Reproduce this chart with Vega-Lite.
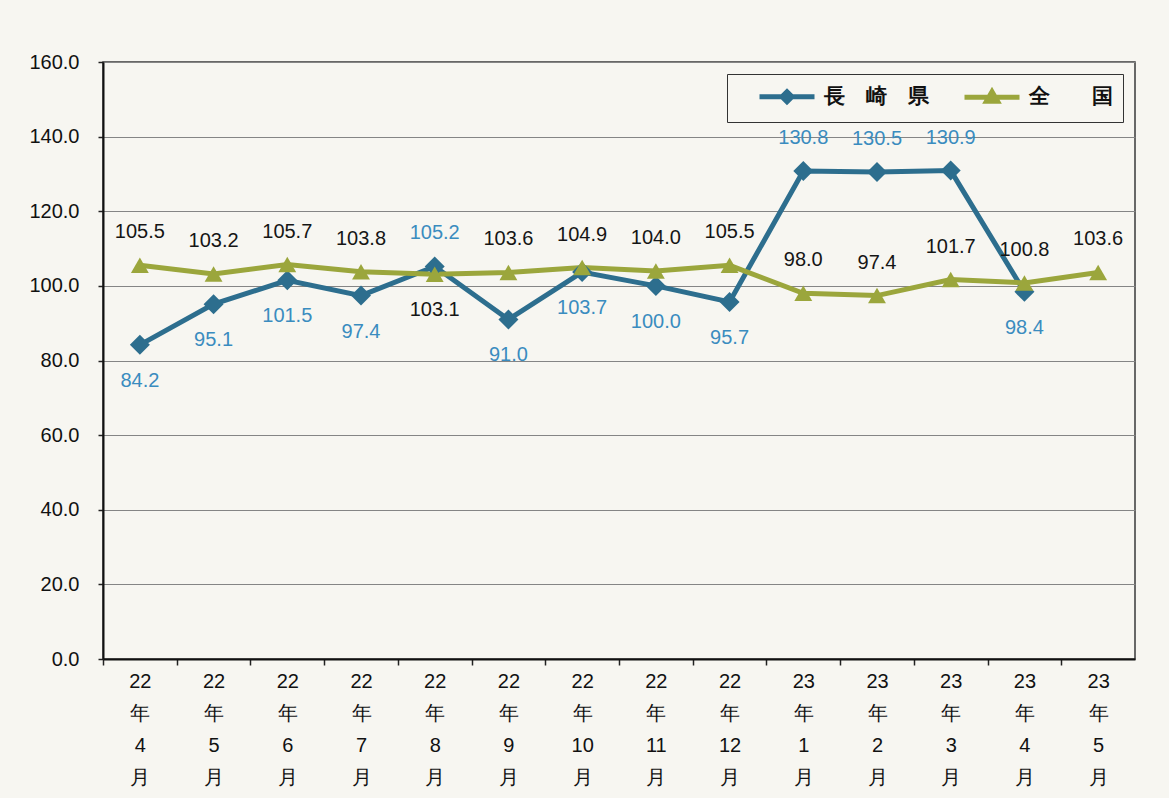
{
  "$schema": "https://vega.github.io/schema/vega-lite/v6.json",
  "width": 1032,
  "height": 597,
  "autosize": {"type": "none"},
  "padding": {"left": 103, "top": 62, "right": 34, "bottom": 139},
  "background": "#f7f6f1",
  "config": {
    "view": {"stroke": "#3a3a3a", "strokeWidth": 1.5}
  },
  "data": {
    "values": [
      {"month": "22年4月", "series": "長崎県", "value": 84.2},
      {"month": "22年5月", "series": "長崎県", "value": 95.1},
      {"month": "22年6月", "series": "長崎県", "value": 101.5},
      {"month": "22年7月", "series": "長崎県", "value": 97.4},
      {"month": "22年8月", "series": "長崎県", "value": 105.2},
      {"month": "22年9月", "series": "長崎県", "value": 91.0},
      {"month": "22年10月", "series": "長崎県", "value": 103.7},
      {"month": "22年11月", "series": "長崎県", "value": 100.0},
      {"month": "22年12月", "series": "長崎県", "value": 95.7},
      {"month": "23年1月", "series": "長崎県", "value": 130.8},
      {"month": "23年2月", "series": "長崎県", "value": 130.5},
      {"month": "23年3月", "series": "長崎県", "value": 130.9},
      {"month": "23年4月", "series": "長崎県", "value": 98.4},
      {"month": "22年4月", "series": "全国", "value": 105.5},
      {"month": "22年5月", "series": "全国", "value": 103.2},
      {"month": "22年6月", "series": "全国", "value": 105.7},
      {"month": "22年7月", "series": "全国", "value": 103.8},
      {"month": "22年8月", "series": "全国", "value": 103.1},
      {"month": "22年9月", "series": "全国", "value": 103.6},
      {"month": "22年10月", "series": "全国", "value": 104.9},
      {"month": "22年11月", "series": "全国", "value": 104.0},
      {"month": "22年12月", "series": "全国", "value": 105.5},
      {"month": "23年1月", "series": "全国", "value": 98.0},
      {"month": "23年2月", "series": "全国", "value": 97.4},
      {"month": "23年3月", "series": "全国", "value": 101.7},
      {"month": "23年4月", "series": "全国", "value": 100.8},
      {"month": "23年5月", "series": "全国", "value": 103.6}
    ]
  },
  "encoding": {
    "x": {
      "field": "month",
      "type": "ordinal",
      "scale": {
        "type": "point",
        "padding": 0.5,
        "domain": ["22年4月", "22年5月", "22年6月", "22年7月", "22年8月", "22年9月", "22年10月", "22年11月", "22年12月", "23年1月", "23年2月", "23年3月", "23年4月", "23年5月"]
      },
      "axis": {
        "title": null,
        "labelAngle": 0,
        "labelBaseline": "top",
        "labelExpr": "[slice(datum.value, 0, 2), '年', slice(datum.value, 3, -1), '月']",
        "labelLineHeight": 32,
        "labelFontSize": 20,
        "labelColor": "#111111",
        "labelPadding": 6,
        "tickOffset": -36.857,
        "labelOffset": 36.857,
        "tickSize": 6,
        "tickWidth": 1.5,
        "tickColor": "#222222",
        "domainColor": "#111111",
        "domainWidth": 2,
        "grid": false
      }
    }
  },
  "layer": [
    {
      "mark": {"type": "line", "strokeWidth": 5},
      "encoding": {
        "y": {
          "field": "value",
          "type": "quantitative",
          "title": null,
          "scale": {"domain": [0, 160], "nice": false},
          "axis": {
            "values": [0, 20, 40, 60, 80, 100, 120, 140, 160],
            "format": ".1f",
            "grid": true,
            "gridColor": "#858585",
            "domainColor": "#111111",
            "domainWidth": 2,
            "tickColor": "#222222",
            "tickSize": 5,
            "tickWidth": 1.5,
            "labelFontSize": 20,
            "labelPadding": 19,
            "labelColor": "#111111"
          }
        },
        "color": {
          "field": "series",
          "type": "nominal",
          "scale": {"domain": ["長崎県", "全国"], "range": ["#2d6e8e", "#9ba63c"]},
          "legend": {
            "title": null,
            "orient": "top-right",
            "offset": 12,
            "direction": "horizontal",
            "strokeColor": "#333333",
            "padding": 10,
            "labelFontSize": 21,
            "labelFontWeight": "bold",
            "labelColor": "#111111",
            "labelExpr": "datum.value === '長崎県' ? '長　崎　県' : '全　　国'",
            "symbolType": "M-2.75,0H2.75",
            "symbolSize": 400,
            "symbolStrokeWidth": 5,
            "symbolOffset": 37.5,
            "labelOffset": 24.5,
            "columnPadding": 13,
            "encode": {
              "symbols": {
                "update": {
                  "shape": {"signal": "datum.value === '長崎県' ? 'M-2.75,0H2.75M-0.5,0L0,-0.5L0.5,0L0,0.5Z' : 'M-2.75,0H2.75M-0.55,0.4L0,-0.55L0.55,0.4Z'"},
                  "fill": {"scale": "color", "field": "value"},
                  "stroke": {"scale": "color", "field": "value"},
                  "strokeWidth": {"value": 5}
                }
              }
            }
          }
        }
      }
    },
    {
      "transform": [{"filter": "datum.series === '長崎県'"}],
      "mark": {"type": "point", "filled": true, "opacity": 1, "shape": "diamond", "size": 400, "color": "#2d6e8e"},
      "encoding": {
        "y": {"field": "value", "type": "quantitative", "title": null}
      }
    },
    {
      "transform": [{"filter": "datum.series === '全国'"}],
      "mark": {"type": "point", "filled": true, "opacity": 1, "shape": "triangle-up", "size": 320, "color": "#9ba63c"},
      "encoding": {
        "y": {"field": "value", "type": "quantitative", "title": null}
      }
    },
    {
      "transform": [
        {"pivot": "series", "value": "value", "groupby": ["month"]},
        {"filter": "isValid(datum['長崎県']) && datum['長崎県'] > datum['全国']"}
      ],
      "mark": {"type": "text", "dy": -33, "fontSize": 20, "color": "#3a8cbf", "baseline": "middle"},
      "encoding": {
        "y": {"field": "長崎県", "type": "quantitative", "title": null},
        "text": {"field": "長崎県", "type": "quantitative", "format": ".1f"}
      }
    },
    {
      "transform": [
        {"pivot": "series", "value": "value", "groupby": ["month"]},
        {"filter": "isValid(datum['長崎県']) && datum['長崎県'] <= datum['全国']"}
      ],
      "mark": {"type": "text", "dy": 36, "fontSize": 20, "color": "#3a8cbf", "baseline": "middle"},
      "encoding": {
        "y": {"field": "長崎県", "type": "quantitative", "title": null},
        "text": {"field": "長崎県", "type": "quantitative", "format": ".1f"}
      }
    },
    {
      "transform": [
        {"pivot": "series", "value": "value", "groupby": ["month"]},
        {"filter": "isValid(datum['長崎県']) && datum['長崎県'] > datum['全国'] && datum['長崎県'] - datum['全国'] < 10"}
      ],
      "mark": {"type": "text", "dy": 36, "fontSize": 20, "color": "#151515", "baseline": "middle"},
      "encoding": {
        "y": {"field": "全国", "type": "quantitative", "title": null},
        "text": {"field": "全国", "type": "quantitative", "format": ".1f"}
      }
    },
    {
      "transform": [
        {"pivot": "series", "value": "value", "groupby": ["month"]},
        {"filter": "!(isValid(datum['長崎県']) && datum['長崎県'] > datum['全国'] && datum['長崎県'] - datum['全国'] < 10)"}
      ],
      "mark": {"type": "text", "dy": -33, "fontSize": 20, "color": "#151515", "baseline": "middle"},
      "encoding": {
        "y": {"field": "全国", "type": "quantitative", "title": null},
        "text": {"field": "全国", "type": "quantitative", "format": ".1f"}
      }
    }
  ]
}
